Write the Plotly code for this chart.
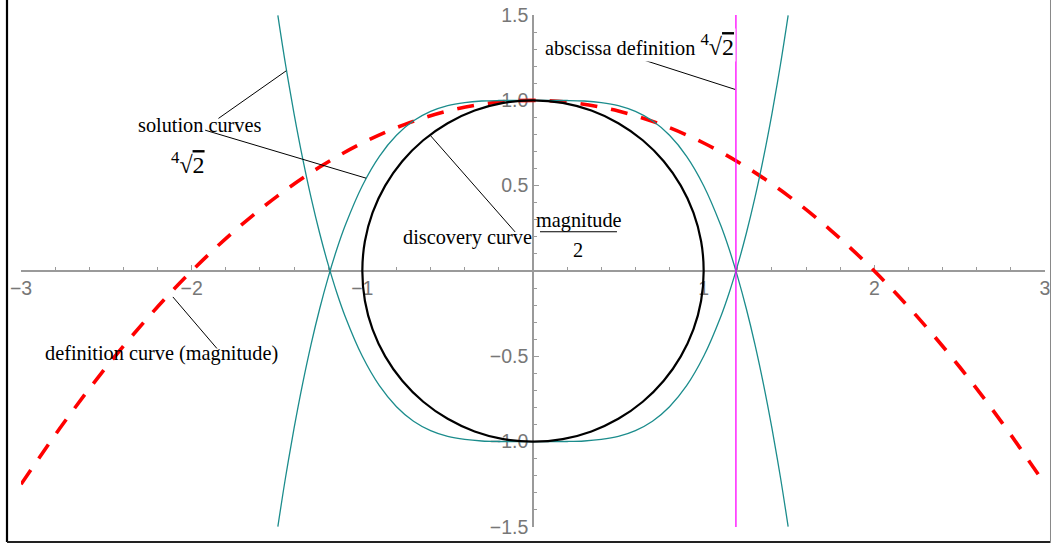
import plotly.graph_objects as go

# ---- data ----
teal_x = [-1.495, -1.45, -1.4, -1.35, -1.3, -1.25, -1.2, -1.15, -1.1, -1.0, -0.9, -0.8, -0.7, -0.6,
          -0.5, -0.4, -0.3, -0.2, 0.0, 0.2, 0.3, 0.4, 0.5, 0.6, 0.7, 0.8, 0.9, 1.0, 1.1, 1.15, 1.2,
          1.25, 1.3, 1.35, 1.4, 1.45, 1.495]
teal_cap_y = [-1.498, -1.210, -0.921, -0.661, -0.428, -0.221, -0.037, 0.126, 0.268, 0.5, 0.672,
              0.795, 0.880, 0.935, 0.969, 0.987, 0.996, 0.999, 1.0, 0.999, 0.996, 0.987, 0.969,
              0.935, 0.880, 0.795, 0.672, 0.5, 0.268, 0.126, -0.037, -0.221, -0.428, -0.661,
              -0.921, -1.210, -1.498]
teal_cup_y = [1.498, 1.210, 0.921, 0.661, 0.428, 0.221, 0.037, -0.126, -0.268, -0.5, -0.672,
              -0.795, -0.880, -0.935, -0.969, -0.987, -0.996, -0.999, -1.0, -0.999, -0.996, -0.987,
              -0.969, -0.935, -0.880, -0.795, -0.672, -0.5, -0.268, -0.126, 0.037, 0.221, 0.428,
              0.661, 0.921, 1.210, 1.498]

circle_x = [1, 0.985, 0.940, 0.866, 0.766, 0.643, 0.5, 0.342, 0.174, 0, -0.174, -0.342, -0.5,
            -0.643, -0.766, -0.866, -0.940, -0.985, -1, -0.985, -0.940, -0.866, -0.766, -0.643,
            -0.5, -0.342, -0.174, 0, 0.174, 0.342, 0.5, 0.643, 0.766, 0.866, 0.940, 0.985, 1]
circle_y = [0, 0.174, 0.342, 0.5, 0.643, 0.766, 0.866, 0.940, 0.985, 1, 0.985, 0.940, 0.866,
            0.766, 0.643, 0.5, 0.342, 0.174, 0, -0.174, -0.342, -0.5, -0.643, -0.766, -0.866,
            -0.940, -0.985, -1, -0.985, -0.940, -0.866, -0.766, -0.643, -0.5, -0.342, -0.174, 0]

red_x = [-3, -2.75, -2.5, -2.25, -2, -1.75, -1.5, -1.25, -1, -0.75, -0.5, -0.25, 0,
         0.25, 0.5, 0.75, 1, 1.25, 1.5, 1.75, 2, 2.25, 2.5, 2.75, 3]
red_y = [-1.25, -0.891, -0.5625, -0.266, 0, 0.234, 0.4375, 0.609, 0.75, 0.859, 0.9375, 0.984, 1,
         0.984, 0.9375, 0.859, 0.75, 0.609, 0.4375, 0.234, 0, -0.266, -0.5625, -0.891, -1.25]

abscissa_x = [1.189, 1.189]
abscissa_y = [-1.5, 1.5]

x_tickvals = [-3, -2, -1, 1, 2, 3]
x_ticktext = ["\u22123", "\u22122", "\u22121", "1", "2", "3"]
y_tickvals = [-1.5, -1.0, -0.5, 0.5, 1.0, 1.5]
y_ticktext = ["\u22121.5", "\u22121.0", "\u22120.5", "0.5", "1.0", "1.5"]

TEAL = "#1b8c8c"
AXIS = "#9a9a9a"
SERIF = "Liberation Serif, Times New Roman, serif"

fig = go.Figure()
fig.add_trace(go.Scatter(x=red_x, y=red_y, mode="lines",
                         line=dict(color="#ff0000", width=3.6, dash="17px,14px", shape="spline")))
fig.add_trace(go.Scatter(x=teal_x, y=teal_cap_y, mode="lines",
                         line=dict(color=TEAL, width=1.3, shape="spline")))
fig.add_trace(go.Scatter(x=teal_x, y=teal_cup_y, mode="lines",
                         line=dict(color=TEAL, width=1.3, shape="spline")))
fig.add_trace(go.Scatter(x=circle_x, y=circle_y, mode="lines",
                         line=dict(color="#000000", width=2.2, shape="spline")))
fig.add_trace(go.Scatter(x=abscissa_x, y=abscissa_y, mode="lines",
                         line=dict(color="#ff00ff", width=1.3)))

axis_common = dict(showgrid=False, zeroline=False, showline=True, linecolor=AXIS, linewidth=1.6,
                   ticks="inside", ticklen=5, tickwidth=1.2, tickcolor=AXIS,
                   tickfont=dict(family="Liberation Sans, Arial, sans-serif", size=19.5, color="#777777"),
                   anchor="free", position=0.5, layer="below traces", fixedrange=True,
                   automargin=False)

fig.update_layout(
    width=1053, height=544,
    margin=dict(l=21, r=8, t=15, b=17, autoexpand=False),
    paper_bgcolor="white", plot_bgcolor="white",
    showlegend=False,
    xaxis=dict(range=[-3, 3], tickmode="array", tickvals=x_tickvals, ticktext=x_ticktext,
               side="bottom",
               minor=dict(tickmode="linear", tick0=0, dtick=0.2, ticks="inside", ticklen=3,
                          tickcolor=AXIS, tickwidth=1),
               **axis_common),
    yaxis=dict(range=[-1.5, 1.5], tickmode="array", tickvals=y_tickvals, ticktext=y_ticktext,
               side="left",
               minor=dict(tickmode="linear", tick0=0, dtick=0.1, ticks="inside", ticklen=3,
                          tickcolor=AXIS, tickwidth=1),
               **axis_common),
)

# leader lines of the callouts
leaders = [((-1.843, 0.894), (-1.446, 1.173)),
           ((-1.921, 0.825), (-0.978, 0.544)),
           ((0.559, 1.265), (1.184, 1.064)),
           ((-0.603, 0.796), (-0.105, 0.229)),
           ((-2.110, -0.152), (-1.852, -0.454))]
for (a, b) in leaders:
    fig.add_shape(type="line", xref="x", yref="y", x0=a[0], y0=a[1], x1=b[0], y1=b[1],
                  line=dict(color="black", width=1))

# fraction bar of magnitude/2
fig.add_shape(type="line", xref="x", yref="y", x0=0.041, y0=0.230, x1=0.492, y1=0.230,
              line=dict(color="black", width=1))

RAD = "<sup>4</sup>\u221a<span style='text-decoration:overline'>2</span>"
RAD_BIG = ("<span style='font-size:24px'><sup>4</sup>\u221a"
           "<span style='text-decoration:overline'>2</span></span>")
tf = dict(family=SERIF, size=20.3, color="black")
fig.add_annotation(x=-2.326, y=0.855, text="solution curves", showarrow=False,
                   xanchor="left", yanchor="middle", font=tf)
fig.add_annotation(x=-2.024, y=0.633, text=RAD, showarrow=False,
                   xanchor="center", yanchor="middle", font=dict(family=SERIF, size=24, color="black"))
fig.add_annotation(x=0.057, y=1.324, text="abscissa definition " + RAD_BIG, showarrow=False,
                   xanchor="left", yanchor="middle", font=tf, bgcolor="white", borderpad=1)
fig.add_annotation(x=-0.775, y=0.199, text="discovery curve", showarrow=False,
                   xanchor="left", yanchor="middle", font=tf)
fig.add_annotation(x=0.267, y=0.293, text="magnitude", showarrow=False,
                   xanchor="center", yanchor="middle", font=tf)
fig.add_annotation(x=0.264, y=0.123, text="2", showarrow=False,
                   xanchor="center", yanchor="middle", font=tf)
fig.add_annotation(x=-2.869, y=-0.486, text="definition curve (magnitude)", showarrow=False,
                   xanchor="left", yanchor="middle", font=tf)

# outer frame
fig.add_shape(type="line", xref="paper", yref="paper", x0=-0.01367, x1=-0.01367, y0=-0.0293, y1=1.03125,
              line=dict(color="black", width=2.2))
fig.add_shape(type="line", xref="paper", yref="paper", x0=-0.01367, x1=1.00537, y0=1.03125, y1=1.03125,
              line=dict(color="black", width=2.2))
fig.add_shape(type="line", xref="paper", yref="paper", x0=-0.01367, x1=1.00537, y0=-0.0293, y1=-0.0293,
              line=dict(color="#222222", width=2.2))
fig.add_shape(type="line", xref="paper", yref="paper", x0=1.00537, x1=1.00537, y0=-0.0293, y1=1.03125,
              line=dict(color="#888888", width=1))

fig.write_html("out.html", config={"displayModeBar": False},
               post_script="document.body.style.margin='0';document.body.style.overflow='hidden';")
